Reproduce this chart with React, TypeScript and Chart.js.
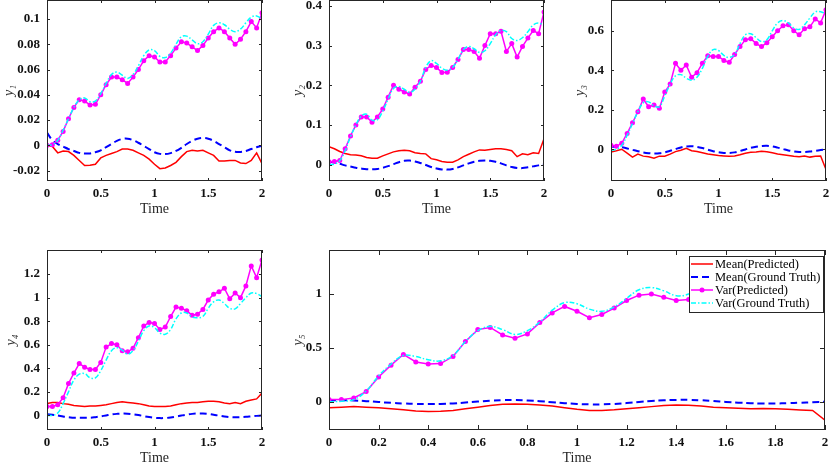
import { useEffect, useRef } from "react";
import { Chart, registerables } from "chart.js";

Chart.register(...registerables);

// time axis (s)
const T = [0, 0.05, 0.1, 0.15, 0.2, 0.25, 0.3, 0.35, 0.4, 0.45, 0.5, 0.55, 0.6, 0.65, 0.7, 0.75, 0.8, 0.85, 0.9, 0.95, 1, 1.05, 1.1, 1.15, 1.2, 1.25, 1.3, 1.35, 1.4, 1.45, 1.5, 1.55, 1.6, 1.65, 1.7, 1.75, 1.8, 1.85, 1.9, 1.95, 2];

const SERIES_LABELS = ["Mean(Predicted)", "Mean(Ground Truth)", "Var(Predicted)", "Var(Ground Truth)"];

// y1
const MEAN_PRED_1 = [0, -0.001, -0.006, -0.0045, -0.005, -0.008, -0.012, -0.016, -0.0158, -0.015, -0.01, -0.008, -0.0065, -0.005, -0.003, -0.003, -0.004, -0.006, -0.008, -0.011, -0.015, -0.0185, -0.018, -0.016, -0.0135, -0.009, -0.005, -0.004, -0.0045, -0.004, -0.006, -0.008, -0.0125, -0.0125, -0.012, -0.012, -0.014, -0.0145, -0.012, -0.006, -0.0145];
const MEAN_GT_1 = [0.01, 0.004, 0.001, -0.001, -0.003, -0.0045, -0.006, -0.0065, -0.0065, -0.0055, -0.004, -0.0015, 0.001, 0.0035, 0.005, 0.0052, 0.004, 0.002, -0.0005, -0.003, -0.0055, -0.0068, -0.007, -0.0062, -0.0045, -0.002, 0.001, 0.0035, 0.0052, 0.0058, 0.0052, 0.0035, 0.001, -0.0015, -0.004, -0.0052, -0.0053, -0.0045, -0.003, -0.0015, -0.0003];
const VAR_PRED_1 = [0, 0.0005, 0.004, 0.011, 0.021, 0.03, 0.036, 0.035, 0.032, 0.0325, 0.04, 0.048, 0.054, 0.054, 0.052, 0.049, 0.054, 0.06, 0.067, 0.071, 0.07, 0.066, 0.066, 0.071, 0.077, 0.082, 0.081, 0.078, 0.075, 0.079, 0.085, 0.09, 0.093, 0.09, 0.085, 0.08, 0.084, 0.09, 0.098, 0.093, 0.105];
const VAR_GT_1 = [0, 0.0005, 0.004, 0.012, 0.021, 0.03, 0.036, 0.0375, 0.0345, 0.035, 0.041, 0.049, 0.056, 0.058, 0.0555, 0.053, 0.056, 0.063, 0.071, 0.0755, 0.075, 0.0705, 0.0695, 0.073, 0.08, 0.086, 0.0865, 0.0835, 0.0805, 0.082, 0.088, 0.095, 0.097, 0.0955, 0.092, 0.09, 0.092, 0.097, 0.1015, 0.1025, 0.1];

// y2
const MEAN_PRED_2 = [0.045, 0.04, 0.033, 0.028, 0.025, 0.024, 0.022, 0.018, 0.016, 0.016, 0.022, 0.027, 0.032, 0.035, 0.036, 0.035, 0.03, 0.028, 0.027, 0.015, 0.012, 0.008, 0.006, 0.006, 0.012, 0.02, 0.026, 0.032, 0.037, 0.036, 0.038, 0.04, 0.04, 0.038, 0.035, 0.02, 0.027, 0.025, 0.03, 0.028, 0.065];
const MEAN_GT_2 = [0.008, 0.005, 0.002, -0.002, -0.005, -0.008, -0.01, -0.0115, -0.012, -0.011, -0.008, -0.004, 0.001, 0.006, 0.0095, 0.01, 0.008, 0.004, -0.001, -0.006, -0.01, -0.0125, -0.0127, -0.011, -0.007, -0.002, 0.003, 0.007, 0.0095, 0.0105, 0.0095, 0.007, 0.003, -0.002, -0.006, -0.0085, -0.0088, -0.007, -0.0045, -0.002, 0];
const VAR_PRED_2 = [0.007, 0.008, 0.01, 0.04, 0.072, 0.1, 0.12, 0.12, 0.107, 0.12, 0.14, 0.17, 0.2, 0.19, 0.183, 0.178, 0.195, 0.21, 0.24, 0.25, 0.245, 0.232, 0.233, 0.245, 0.265, 0.29, 0.29, 0.285, 0.268, 0.3, 0.33, 0.33, 0.336, 0.285, 0.305, 0.271, 0.298, 0.319, 0.338, 0.33, 0.385];
const VAR_GT_2 = [0, 0.001, 0.01, 0.035, 0.07, 0.1, 0.122, 0.127, 0.112, 0.113, 0.135, 0.165, 0.192, 0.197, 0.19, 0.182, 0.19, 0.21, 0.245, 0.262, 0.255, 0.243, 0.238, 0.245, 0.265, 0.29, 0.298, 0.292, 0.283, 0.287, 0.305, 0.327, 0.338, 0.335, 0.318, 0.313, 0.32, 0.335, 0.352, 0.357, 0.35];

// y3
const MEAN_PRED_3 = [-0.014, -0.008, 0, -0.02, -0.04, -0.025, -0.035, -0.038, -0.046, -0.035, -0.035, -0.025, -0.012, -0.005, 0.005, -0.008, -0.012, -0.018, -0.024, -0.028, -0.032, -0.034, -0.036, -0.034, -0.028, -0.02, -0.015, -0.014, -0.01, -0.013, -0.018, -0.024, -0.028, -0.032, -0.036, -0.038, -0.034, -0.04, -0.036, -0.034, -0.103];
const MEAN_GT_3 = [0.012, 0.012, 0.01, 0.004, -0.003, -0.01, -0.016, -0.02, -0.022, -0.021, -0.016, -0.008, 0.001, 0.009, 0.014, 0.015, 0.012, 0.006, -0.002, -0.01, -0.015, -0.019, -0.019, -0.016, -0.009, -0.001, 0.007, 0.013, 0.016, 0.017, 0.014, 0.008, 0.001, -0.006, -0.011, -0.014, -0.014, -0.012, -0.008, -0.004, 0];
const VAR_PRED_3 = [0.02, 0.015, 0.03, 0.08, 0.134, 0.19, 0.254, 0.215, 0.224, 0.207, 0.29, 0.33, 0.435, 0.4, 0.427, 0.364, 0.388, 0.435, 0.473, 0.47, 0.47, 0.45, 0.44, 0.48, 0.52, 0.554, 0.56, 0.535, 0.52, 0.54, 0.57, 0.6, 0.625, 0.63, 0.6, 0.58, 0.61, 0.62, 0.66, 0.64, 0.706];
const VAR_GT_3 = [-0.005, 0, 0.02, 0.07, 0.13, 0.19, 0.235, 0.24, 0.22, 0.215, 0.27, 0.33, 0.372, 0.378, 0.36, 0.35, 0.365, 0.41, 0.47, 0.505, 0.5, 0.475, 0.465, 0.48, 0.535, 0.58, 0.585, 0.565, 0.545, 0.555, 0.6, 0.64, 0.652, 0.64, 0.615, 0.607, 0.63, 0.665, 0.695, 0.697, 0.685];

// y4
const MEAN_PRED_4 = [0.1, 0.11, 0.11, 0.1, 0.095, 0.085, 0.08, 0.075, 0.08, 0.08, 0.085, 0.09, 0.1, 0.11, 0.115, 0.11, 0.105, 0.1, 0.09, 0.08, 0.075, 0.075, 0.075, 0.08, 0.09, 0.1, 0.105, 0.11, 0.11, 0.115, 0.12, 0.12, 0.115, 0.105, 0.1, 0.11, 0.1, 0.12, 0.13, 0.14, 0.19];
const MEAN_GT_4 = [0.01, 0.005, 0, -0.01, -0.015, -0.02, -0.02, -0.02, -0.02, -0.015, -0.008, 0, 0.008, 0.013, 0.016, 0.015, 0.01, 0.003, -0.006, -0.014, -0.02, -0.023, -0.022, -0.018, -0.01, -0.001, 0.007, 0.013, 0.016, 0.016, 0.013, 0.006, -0.002, -0.009, -0.014, -0.016, -0.015, -0.012, -0.008, -0.004, 0];
const VAR_PRED_4 = [0.075, 0.075, 0.09, 0.15, 0.27, 0.36, 0.44, 0.41, 0.39, 0.39, 0.45, 0.58, 0.61, 0.6, 0.55, 0.54, 0.57, 0.66, 0.76, 0.79, 0.78, 0.73, 0.75, 0.84, 0.92, 0.91, 0.89, 0.85, 0.86, 0.9, 0.98, 1.03, 1.05, 1.08, 0.99, 1.04, 1.0, 1.1, 1.27, 1.17, 1.32];
const VAR_GT_4 = [0, 0, 0.02, 0.1, 0.2, 0.3, 0.35, 0.355, 0.32, 0.318, 0.38, 0.47, 0.55, 0.575, 0.555, 0.52, 0.55, 0.63, 0.72, 0.76, 0.745, 0.7, 0.69, 0.73, 0.82, 0.87, 0.87, 0.835, 0.83, 0.84, 0.91, 0.965, 0.98, 0.95, 0.91, 0.905, 0.95, 1.0, 1.04, 1.035, 1.01];

// y5
const MEAN_PRED_5 = [-0.056, -0.05, -0.045, -0.05, -0.055, -0.065, -0.075, -0.085, -0.09, -0.088, -0.08, -0.065, -0.05, -0.035, -0.022, -0.02, -0.022, -0.03, -0.04, -0.055, -0.07, -0.08, -0.081, -0.075, -0.065, -0.055, -0.045, -0.035, -0.031, -0.032, -0.04, -0.05, -0.055, -0.06, -0.065, -0.062, -0.065, -0.07, -0.076, -0.08, -0.17];
const MEAN_GT_5 = [0.015, 0.015, 0.012, 0.006, -0.002, -0.01, -0.016, -0.02, -0.021, -0.02, -0.015, -0.007, 0.002, 0.01, 0.015, 0.016, 0.012, 0.005, -0.004, -0.013, -0.02, -0.024, -0.024, -0.02, -0.012, -0.002, 0.008, 0.014, 0.017, 0.018, 0.014, 0.007, -0.001, -0.008, -0.013, -0.016, -0.016, -0.013, -0.009, -0.004, 0];
const VAR_PRED_5 = [0.02, 0.02, 0.035, 0.095, 0.23, 0.34, 0.44, 0.37, 0.35, 0.355, 0.42, 0.56, 0.67, 0.69, 0.62, 0.59, 0.63, 0.735, 0.825, 0.885, 0.84, 0.78, 0.81, 0.87, 0.94, 0.99, 1.0, 0.97, 0.94, 0.95, 1.03, 1.09, 1.12, 1.1, 1.05, 1.04, 1.07, 1.12, 1.18, 1.19, 1.25];
const VAR_GT_5 = [0, 0.005, 0.02, 0.1, 0.24, 0.35, 0.43, 0.42, 0.39, 0.38, 0.43, 0.56, 0.66, 0.7, 0.67, 0.625, 0.66, 0.74, 0.85, 0.92, 0.91, 0.86, 0.84, 0.88, 0.96, 1.04, 1.06, 1.03, 0.985, 1.0, 1.06, 1.14, 1.18, 1.16, 1.12, 1.11, 1.14, 1.2, 1.26, 1.27, 1.25];

// tick labels
const X_TICKS = [0, 0.5, 1, 1.5, 2];
const X_TICKS_WIDE = [0, 0.2, 0.4, 0.6, 0.8, 1, 1.2, 1.4, 1.6, 1.8, 2];
const Y1_TICKS = [-0.02, 0, 0.02, 0.04, 0.06, 0.08, 0.1];
const Y2_TICKS = [0, 0.1, 0.2, 0.3, 0.4];
const Y3_TICKS = [0, 0.2, 0.4, 0.6];
const Y4_TICKS = [0, 0.2, 0.4, 0.6, 0.8, 1, 1.2];
const Y5_TICKS = [0, 0.5, 1];

const SERIF = "'Liberation Serif', 'Times New Roman', 'DejaVu Serif', serif";
const AXIS_COLOR = "#262626";

const STYLES = [
  { color: "#ff0000", width: 1.5, dash: [] as number[], tension: 0, marker: 0, order: 4 },
  { color: "#0000ff", width: 2, dash: [7, 4], tension: 0.4, marker: 0, order: 3 },
  { color: "#ff00ff", width: 1.5, dash: [] as number[], tension: 0, marker: 2.5, order: 2 },
  { color: "#00ffff", width: 1.5, dash: [5, 2, 1.5, 2], tension: 0.4, marker: 0, order: 1 },
];

const YW = 46; // y axis box width
const XH = 40; // x axis box height
const PAD = 4;

interface PanelSpec {
  yLabel: string;
  series: number[][];
  yMin: number;
  yMax: number;
  yTicks: number[];
  xTicks: number[];
  area: [number, number, number, number]; // left, top, right, bottom in page px
  titlePad: number;
  tickLen: number;
  legend?: boolean;
}

const PANELS: PanelSpec[] = [
  { yLabel: "y₁", series: [MEAN_PRED_1, MEAN_GT_1, VAR_PRED_1, VAR_GT_1], yMin: -0.0283, yMax: 0.1151, yTicks: Y1_TICKS, xTicks: X_TICKS, area: [47, 0, 262, 181], titlePad: 0, tickLen: 3 },
  { yLabel: "y₂", series: [MEAN_PRED_2, MEAN_GT_2, VAR_PRED_2, VAR_GT_2], yMin: -0.0414, yMax: 0.415, yTicks: Y2_TICKS, xTicks: X_TICKS, area: [329, 0, 544, 181], titlePad: 6.6, tickLen: 3 },
  { yLabel: "y₃", series: [MEAN_PRED_3, MEAN_GT_3, VAR_PRED_3, VAR_GT_3], yMin: -0.161, yMax: 0.756, yTicks: Y3_TICKS, xTicks: X_TICKS, area: [611, 0, 826, 181], titlePad: 6.6, tickLen: 3 },
  { yLabel: "y₄", series: [MEAN_PRED_4, MEAN_GT_4, VAR_PRED_4, VAR_GT_4], yMin: -0.124, yMax: 1.405, yTicks: Y4_TICKS, xTicks: X_TICKS, area: [47, 250, 262, 430], titlePad: 1.6, tickLen: 3 },
  { yLabel: "y₅", series: [MEAN_PRED_5, MEAN_GT_5, VAR_PRED_5, VAR_GT_5], yMin: -0.262, yMax: 1.409, yTicks: Y5_TICKS, xTicks: X_TICKS_WIDE, area: [329, 250, 825, 430], titlePad: 6.6, tickLen: 5, legend: true },
];

function makeBoxPlugin(tickLen: number) {
  return {
    id: "matlabBox",
    afterDatasetsDraw(chart: any) {
      const { ctx, chartArea: a, scales } = chart;
      ctx.save();
      ctx.strokeStyle = AXIS_COLOR;
      ctx.lineWidth = 1;
      ctx.setLineDash([]);
      ctx.beginPath();
      scales.x.ticks.forEach((t: any) => {
        const p = Math.round(scales.x.getPixelForValue(t.value)) + 0.5;
        ctx.moveTo(p, a.bottom);
        ctx.lineTo(p, a.bottom - tickLen);
        ctx.moveTo(p, a.top);
        ctx.lineTo(p, a.top + tickLen);
      });
      scales.y.ticks.forEach((t: any) => {
        const p = Math.round(scales.y.getPixelForValue(t.value)) + 0.5;
        ctx.moveTo(a.left, p);
        ctx.lineTo(a.left + tickLen, p);
        ctx.moveTo(a.right, p);
        ctx.lineTo(a.right - tickLen, p);
      });
      ctx.stroke();
      ctx.strokeRect(a.left + 0.5, a.top + 0.5, a.right - a.left - 1, a.bottom - a.top - 1);
      ctx.restore();
    },
  };
}

const legendPlugin = {
  id: "boxLegend",
  afterDraw(chart: any) {
    const { ctx, chartArea: a } = chart;
    const w = 135;
    const h = 57;
    const x0 = a.right - w - 1;
    const y0 = a.top + 6;
    const rows = [8, 21, 34, 47];
    ctx.save();
    ctx.fillStyle = "#ffffff";
    ctx.fillRect(x0, y0, w, h);
    ctx.strokeStyle = AXIS_COLOR;
    ctx.lineWidth = 1;
    ctx.strokeRect(x0 + 0.5, y0 + 0.5, w - 1, h - 1);
    chart.data.datasets.forEach((ds: any, i: number) => {
      const y = y0 + rows[i];
      ctx.strokeStyle = ds.borderColor;
      ctx.lineWidth = ds.borderWidth;
      ctx.setLineDash(ds.borderDash || []);
      ctx.beginPath();
      ctx.moveTo(x0 + 2, y);
      ctx.lineTo(x0 + 24, y);
      ctx.stroke();
      ctx.setLineDash([]);
      if (ds.pointRadius > 0) {
        ctx.fillStyle = ds.borderColor;
        ctx.beginPath();
        ctx.arc(x0 + 13, y, ds.pointRadius, 0, Math.PI * 2);
        ctx.fill();
      }
      ctx.fillStyle = "#000000";
      ctx.font = `12.5px ${SERIF}`;
      ctx.textBaseline = "middle";
      ctx.textAlign = "left";
      ctx.fillText(ds.label, x0 + 26, y + 0.5);
    });
    ctx.restore();
  },
};

function Panel({ spec }: { spec: PanelSpec }) {
  const canvasRef = useRef<HTMLCanvasElement>(null);
  const chartRef = useRef<Chart | null>(null);
  const [l, t, r, b] = spec.area;

  useEffect(() => {
    if (!canvasRef.current) return;
    if (chartRef.current) chartRef.current.destroy();

    const datasets = spec.series.map((vals, i) => {
      const s = STYLES[i];
      return {
        label: SERIES_LABELS[i],
        data: T.map((x, k) => ({ x, y: vals[k] })),
        borderColor: s.color,
        backgroundColor: s.color,
        borderWidth: s.width,
        borderDash: s.dash,
        tension: s.tension,
        pointRadius: s.marker,
        pointBorderWidth: 0,
        pointBackgroundColor: s.color,
        fill: false,
        order: s.order,
      };
    });

    const tickFont = { family: SERIF, size: 13, weight: "bold" as const };

    chartRef.current = new Chart(canvasRef.current, {
      type: "line",
      data: { datasets },
      plugins: spec.legend ? [makeBoxPlugin(spec.tickLen), legendPlugin] : [makeBoxPlugin(spec.tickLen)],
      options: {
        animation: false,
        responsive: true,
        maintainAspectRatio: false,
        events: [],
        layout: { padding: { top: PAD, right: PAD, left: 0, bottom: 0 }, autoPadding: false },
        plugins: { legend: { display: false }, tooltip: { enabled: false } },
        scales: {
          x: {
            type: "linear",
            min: 0,
            max: 2,
            afterBuildTicks: (s: any) => {
              s.ticks = spec.xTicks.map((v) => ({ value: v }));
            },
            afterFit: (s: any) => {
              s.height = XH;
              s.paddingLeft = 0;
              s.paddingRight = 0;
            },
            grid: { display: false, drawTicks: false },
            border: { display: false },
            ticks: {
              padding: 5,
              font: tickFont,
              color: "#111111",
              maxRotation: 0,
              autoSkip: false,
              callback: (v: any) => String(v),
            },
            title: {
              display: true,
              text: "Time",
              font: { family: SERIF, size: 14 },
              color: AXIS_COLOR,
              padding: { top: 0, bottom: 3 },
            },
          },
          y: {
            type: "linear",
            min: spec.yMin,
            max: spec.yMax,
            afterBuildTicks: (s: any) => {
              s.ticks = spec.yTicks.map((v) => ({ value: v }));
            },
            afterFit: (s: any) => {
              s.width = YW;
              s.paddingTop = 0;
              s.paddingBottom = 0;
            },
            grid: { display: false, drawTicks: false },
            border: { display: false },
            ticks: {
              padding: 7,
              font: tickFont,
              color: "#111111",
              autoSkip: false,
              callback: (v: any) => String(v),
            },
            title: {
              display: true,
              text: spec.yLabel,
              font: { family: SERIF, size: 14, style: "italic" },
              color: "#333333",
              padding: { top: spec.titlePad, bottom: 0 },
            },
          },
        },
      },
    } as any);

    return () => {
      if (chartRef.current) {
        chartRef.current.destroy();
        chartRef.current = null;
      }
    };
  }, [spec]);

  return (
    <div
      style={{
        position: "absolute",
        left: l - YW,
        top: t - PAD,
        width: r - l + YW + PAD,
        height: b - t + XH + PAD,
      }}
    >
      <canvas ref={canvasRef} />
    </div>
  );
}

export default function App() {
  return (
    <div
      style={{
        position: "absolute",
        left: 0,
        top: 0,
        width: 830,
        height: 464,
        overflow: "hidden",
        background: "#ffffff",
      }}
    >
      {PANELS.map((p, i) => (
        <Panel key={i} spec={p} />
      ))}
    </div>
  );
}
